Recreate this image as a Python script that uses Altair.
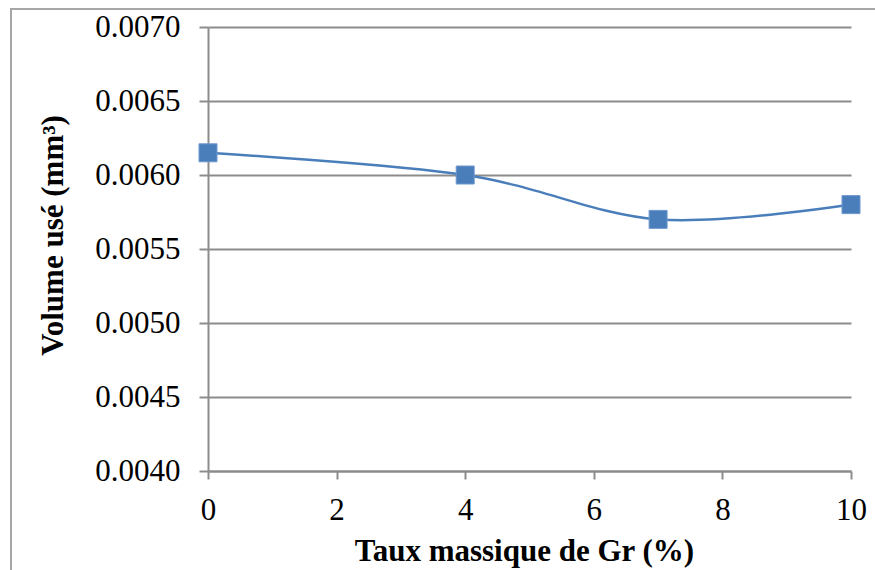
import altair as alt
import pandas as pd

# Wear volume against graphite mass fraction
gr_pct = [0, 4, 7, 10]
volume = [0.00615, 0.0060, 0.0057, 0.0058]

x_ticks = [0, 2, 4, 6, 8, 10]
y_ticks = [0.0040, 0.0045, 0.0050, 0.0055, 0.0060, 0.0065, 0.0070]

df = pd.DataFrame({"gr": gr_pct, "vol": volume})

BLUE = "#4a7ebb"
GREY = "#8c8c8c"
FONT = "Liberation Serif"

x_enc = alt.X(
    "gr:Q",
    scale=alt.Scale(domain=[0, 10], nice=False),
    axis=alt.Axis(
        values=x_ticks,
        title="Taux massique de Gr (%)",
        grid=False,
        tickSize=8,
        labelPadding=16,
        labelFlush=False,
        titleX=316,
        titleY=89,
        titleBaseline="alphabetic",
        titleAlign="center",
    ),
)
y_enc = alt.Y(
    "vol:Q",
    scale=alt.Scale(domain=[0.004, 0.007], nice=False, zero=False),
    axis=alt.Axis(
        values=y_ticks,
        format=".4f",
        title="Volume usé (mm³)",
        grid=True,
        tickSize=9,
        labelPadding=19,
        labelFlush=False,
        titleAngle=-90,
        titleX=-146,
        titleY=208,
        titleBaseline="alphabetic",
        titleAlign="center",
    ),
)

base = alt.Chart(df).encode(x=x_enc, y=y_enc)

line = base.mark_line(interpolate="cardinal", color=BLUE, strokeWidth=2.5)
points = base.mark_square(size=324, color=BLUE, opacity=1, stroke="#6f97cf", strokeWidth=1)

# Outer frame of the figure (left and top edges)
frame_df = pd.DataFrame({"k": [0]})
frame_left = alt.Chart(frame_df).mark_rule(color="#a6a6a6", strokeWidth=2).encode(
    x=alt.value(-197), y=alt.value(-18), y2=alt.value(560)
)
frame_top = alt.Chart(frame_df).mark_rule(color="#a6a6a6", strokeWidth=2).encode(
    x=alt.value(-198), x2=alt.value(680), y=alt.value(-18)
)

chart = (
    alt.layer(frame_left, frame_top, line, points)
    .properties(
        width=643,
        height=444,
        autosize=alt.AutoSizeParams(type="none"),
        padding={"left": 208, "top": 27, "right": 24, "bottom": 99},
        background="white",
    )
    .configure_view(strokeWidth=0)
    .configure_axis(
        domainColor=GREY,
        domainWidth=2,
        tickColor=GREY,
        tickWidth=2,
        gridColor=GREY,
        gridWidth=2,
        labelFont=FONT,
        labelFontSize=31,
        labelColor="black",
        titleFont=FONT,
        titleFontSize=31,
        titleFontWeight="bold",
        titleColor="black",
    )
)

chart.save("out.html", embed_options={"renderer": "svg", "actions": False})
